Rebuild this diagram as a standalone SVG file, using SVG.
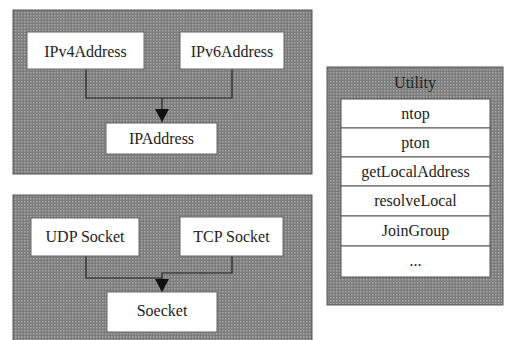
<svg xmlns="http://www.w3.org/2000/svg" width="509" height="340" viewBox="0 0 509 340">
<defs>
<pattern id="stip" width="3" height="3" patternUnits="userSpaceOnUse">
<rect width="3" height="3" fill="#7c7c7c"/>
<rect x="0" y="0" width="1.5" height="1.5" fill="#a8a8a8"/>
</pattern>
<marker id="tri" viewBox="0 0 13 14" refX="13" refY="7" markerWidth="13" markerHeight="14" markerUnits="userSpaceOnUse" orient="auto">
<path d="M0,0 L13,7 L0,14 Z" fill="#111"/>
</marker>
</defs>
<style>
.panel{fill:url(#stip);stroke:#555;stroke-width:1}
.box{fill:#fff;stroke:#666;stroke-width:1}
.row{fill:#fff;stroke:#555;stroke-width:1}
.t{font-family:"Liberation Serif","Times New Roman",serif;font-size:16px;fill:#222;text-anchor:middle}
.c{fill:none;stroke:#222;stroke-width:1.2}
</style>
<rect width="509" height="340" fill="#fff"/>
<g id="panel-ip"><rect class="panel" x="13" y="10" width="299" height="164"/></g>
<g id="panel-socket"><rect class="panel" x="13" y="195" width="299" height="150"/></g>
<g id="panel-utility"><rect class="panel" x="327" y="67" width="176" height="238"/>
<text class="t" x="415" y="88" font-size="14">Utility</text></g>
<g id="connectors">
<path class="c" d="M86,69 V98 H232 V69"/>
<path class="c" d="M162,98 V122" marker-end="url(#tri)"/>
<path class="c" d="M86,256 V278 H162"/>
<path class="c" d="M232,256 V273 H162 V292" marker-end="url(#tri)"/>
</g>
<g id="IPv4Address"><rect class="box" x="27" y="32" width="117" height="37"/><text class="t" x="85.5" y="57">IPv4Address</text></g>
<g id="IPv6Address"><rect class="box" x="180" y="32" width="104" height="37"/><text class="t" x="232" y="57">IPv6Address</text></g>
<g id="IPAddress"><rect class="box" x="106" y="123" width="111" height="31"/><text class="t" x="161.5" y="144">IPAddress</text></g>
<g id="UDPSocket"><rect class="box" x="31" y="218" width="108" height="38"/><text class="t" x="85" y="242">UDP Socket</text></g>
<g id="TCPSocket"><rect class="box" x="180" y="217" width="103" height="39"/><text class="t" x="231.5" y="242">TCP Socket</text></g>
<g id="Soecket"><rect class="box" x="107" y="292" width="110" height="40"/><text class="t" x="162" y="316">Soecket</text></g>
<g id="utility-rows">
<rect class="row" x="341" y="99" width="149" height="29"/><text class="t" x="415.5" y="119">ntop</text>
<rect class="row" x="341" y="128" width="149" height="29"/><text class="t" x="415.5" y="148">pton</text>
<rect class="row" x="341" y="157" width="149" height="29"/><text class="t" x="415.5" y="177">getLocalAddress</text>
<rect class="row" x="341" y="186" width="149" height="30"/><text class="t" x="415.5" y="206">resolveLocal</text>
<rect class="row" x="341" y="216" width="149" height="30"/><text class="t" x="415.5" y="236">JoinGroup</text>
<rect class="row" x="341" y="246" width="149" height="31"/><text class="t" x="415.5" y="266">...</text>
</g>
</svg>
